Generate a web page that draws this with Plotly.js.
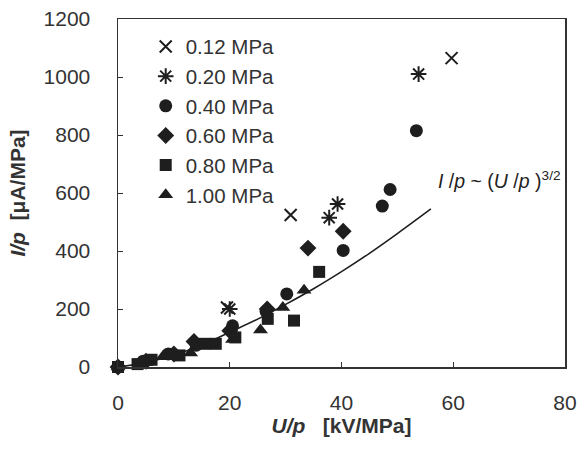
<!DOCTYPE html>
<html>
<head>
<meta charset="utf-8">
<script src="https://cdn.plot.ly/plotly-3.0.1.min.js"></script>
<style>html,body{margin:0;padding:0;background:#fff;}#chart{width:580px;height:450px;}</style>
</head>
<body>
<div id="chart"></div>
<script>
// Data
const seriesNames = ["0.12 MPa", "0.20 MPa", "0.40 MPa", "0.60 MPa", "0.80 MPa", "1.00 MPa"];

const x012 = [19.5, 30.9, 59.7];
const y012 = [205, 524, 1065];

const x020 = [20.0, 37.8, 39.3, 53.8];
const y020 = [200, 515, 562, 1010];

const x040 = [0, 4.5, 9.0, 14.0, 20.5, 26.5, 30.2, 40.3, 47.3, 48.7, 53.4];
const y040 = [0, 20, 45, 75, 142, 192, 252, 402, 555, 612, 815];

const x060 = [0, 5.0, 10.0, 13.6, 20.0, 26.7, 34.0, 40.3];
const y060 = [0, 20, 45, 88, 125, 200, 410, 468];

const x080 = [0, 3.5, 6.0, 11.0, 15.5, 17.5, 21.0, 26.8, 31.5, 36.0];
const y080 = [0, 10, 25, 40, 80, 80, 102, 166, 160, 328];

const x100 = [0, 5.0, 8.0, 13.0, 16.5, 20.5, 25.5, 29.5, 33.3];
const y100 = [0, 15, 35, 48, 78, 95, 128, 205, 265];

// fitted curve I/p ~ (U/p)^(3/2)
const fitX = [0, 5, 10, 15, 20, 25, 30, 35, 40, 45, 50, 56];
const fitY = [0, 15, 41, 76, 120, 165, 216, 270, 329, 392, 460, 545];

const xTicks = [0, 20, 40, 60, 80];
const yTicks = [0, 200, 400, 600, 800, 1000, 1200];

const dark = "#1e1e1e";
const symbols = ["x-thin-open", "asterisk-open", "circle", "diamond", "square", "triangle-up"];
const sizes = [12, 13, 13, 13, 12, 13];
const xs = [x012, x020, x040, x060, x080, x100];
const ys = [y012, y020, y040, y060, y080, y100];

const traces = seriesNames.map((name, i) => ({
  type: "scatter", mode: "markers", name: name,
  x: xs[i], y: ys[i],
  marker: {symbol: symbols[i], size: sizes[i], color: dark,
           line: {color: dark, width: (i < 2 ? 2 : 0)}},
  cliponaxis: false
}));

traces.push({
  type: "scatter", mode: "lines", x: fitX, y: fitY, showlegend: false,
  line: {color: dark, width: 1.6, shape: "spline"}, hoverinfo: "skip"
});

const font = "Liberation Sans, Arial, sans-serif";

const layout = {
  width: 580, height: 450,
  margin: {l: 118, r: 15, t: 19, b: 83},
  paper_bgcolor: "#ffffff", plot_bgcolor: "#ffffff",
  font: {family: font, color: "#333", size: 20},
  showlegend: true,
  legend: {x: 0.062, y: 0.978, xanchor: "left", yanchor: "top",
           bgcolor: "rgba(0,0,0,0)", font: {size: 20.5, color: "#333", family: font},
           itemwidth: 30, tracegroupgap: 0},
  xaxis: {
    range: [0, 80], tickvals: xTicks, ticktext: xTicks.map(String),
    showgrid: false, zeroline: false, showline: true, linecolor: "#333", linewidth: 1.5,
    mirror: true, ticks: "inside", ticklen: 5, tickcolor: "#333",
    ticklabelstandoff: 16,
    tickfont: {size: 21, color: "#333"},
    title: {text: "<b><i>U/p</i>   [kV/MPa]</b>", font: {size: 21, color: "#333"}, standoff: 2}
  },
  yaxis: {
    range: [0, 1200], tickvals: yTicks, ticktext: yTicks.map(String),
    showgrid: false, zeroline: false, showline: true, linecolor: "#333", linewidth: 1.5,
    mirror: true, ticks: "inside", ticklen: 5, tickcolor: "#333",
    ticklabelstandoff: 22,
    tickfont: {size: 21, color: "#333"},
    title: {text: "<b><i>I/p</i>  [μA/MPa]</b>", font: {size: 21, color: "#333"}, standoff: 12}
  },
  annotations: [{
    x: 56.9, y: 645, xref: "x", yref: "y", xanchor: "left", yanchor: "middle",
    text: "<i>I</i> /<i>p</i> ~ (<i>U</i> /<i>p</i> )<sup>3/2</sup>",
    showarrow: false, font: {size: 19.5, color: "#222", family: font}
  }]
};

Plotly.newPlot("chart", traces, layout, {staticPlot: true, displayModeBar: false});
</script>
</body>
</html>
